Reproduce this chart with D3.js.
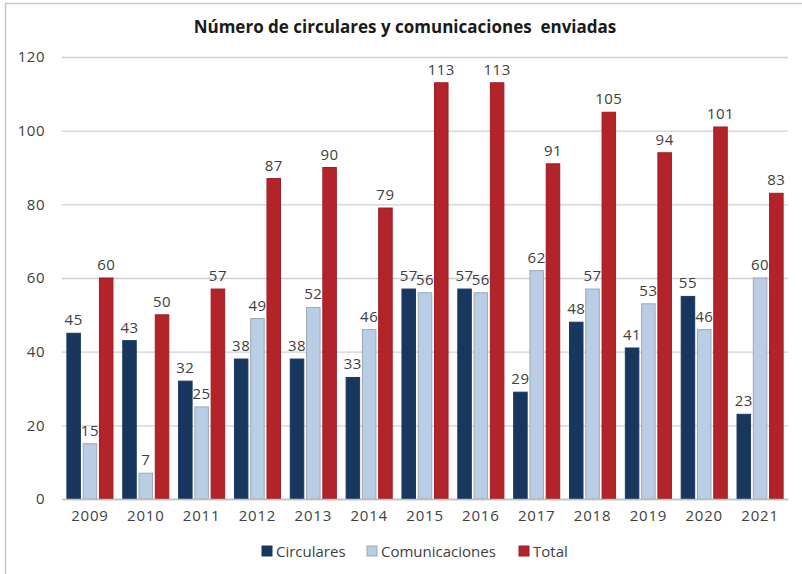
<!DOCTYPE html>
<html>
<head>
<meta charset="utf-8">
<script src="https://cdn.jsdelivr.net/npm/d3@7"></script>
<style>
  body { margin: 0; background: #fff; }
  text { font-family: "Open Sans", "DejaVu Sans", sans-serif; fill: #404040; }
</style>
</head>
<body>
<script>
// chart data
const years = ["2009", "2010", "2011", "2012", "2013", "2014", "2015", "2016", "2017", "2018", "2019", "2020", "2021"];
const circulares = [45, 43, 32, 38, 38, 33, 57, 57, 29, 48, 41, 55, 23];
const comunicaciones = [15, 7, 25, 49, 52, 46, 56, 56, 62, 57, 53, 46, 60];
const total = [60, 50, 57, 87, 90, 79, 113, 113, 91, 105, 94, 101, 83];
const yTicks = [0, 20, 40, 60, 80, 100, 120];
const seriesNames = ["Circulares", "Comunicaciones", "Total"];

const width = 802, height = 574;
const margin = { top: 57, right: 14, bottom: 75, left: 62 };
const colors = { fill: ["#17375e", "#b9cde5", "#b3232a"], stroke: ["#1b3a63", "#9fa8b4", "#9e1d24"] };

const svg = d3.select("body").append("svg")
    .attr("width", width)
    .attr("height", height);

// outer frame
svg.append("rect")
    .attr("x", 5.5).attr("y", 3.5)
    .attr("width", 810).attr("height", 600)
    .attr("fill", "none")
    .attr("stroke", "#c8c8c8")
    .attr("stroke-width", 1.5);

svg.append("text")
    .attr("x", 405)
    .attr("y", 33)
    .attr("text-anchor", "middle")
    .style("font-size", "17px")
    .style("font-weight", "bold")
    .style("white-space", "pre")
    .style("fill", "#1a1a1a")
    .text("Número de circulares y comunicaciones  enviadas");

const plotW = width - margin.left - margin.right;
const plotH = height - margin.top - margin.bottom;

const g = svg.append("g")
    .attr("transform", `translate(${margin.left},${margin.top})`);

const x = d3.scaleBand().domain(years).range([0, plotW]);
const x1 = d3.scaleBand().domain(seriesNames).range([0, x.bandwidth()])
    .paddingInner(0.17).paddingOuter(0.3);
const y = d3.scaleLinear().domain([0, 120]).range([plotH, 0]);

// gridlines + y labels
g.append("g")
    .call(d3.axisLeft(y).tickValues(yTicks).tickSize(-plotW).tickPadding(17))
    .call(a => a.select(".domain").remove())
    .call(a => a.selectAll(".tick line").attr("stroke", "#d0d0d0").attr("stroke-width", 1.3))
    .call(a => a.selectAll(".tick text").style("font-size", "15px").style("letter-spacing", "0.5px").attr("font-family", null));

const rows = years.map((yr, i) => ({ year: yr, values: [circulares[i], comunicaciones[i], total[i]] }));

const groups = g.selectAll(".grp")
    .data(rows)
    .enter().append("g")
    .attr("class", "grp")
    .attr("transform", d => `translate(${x(d.year)},0)`);

groups.selectAll("rect")
    .data(d => d.values.map((v, k) => ({ k, v })))
    .enter().append("rect")
    .attr("x", d => x1(seriesNames[d.k]))
    .attr("width", x1.bandwidth())
    .attr("y", d => y(d.v))
    .attr("height", d => plotH - y(d.v))
    .attr("fill", d => colors.fill[d.k])
    .attr("stroke", d => colors.stroke[d.k])
    .attr("stroke-width", 1);

groups.selectAll(".lbl")
    .data(d => d.values.map((v, k) => ({ k, v })))
    .enter().append("text")
    .attr("class", "lbl")
    .attr("x", d => x1(seriesNames[d.k]) + x1.bandwidth() / 2)
    .attr("y", d => y(d.v) - 8)
    .attr("text-anchor", "middle")
    .style("font-size", "15px")
    .style("letter-spacing", "0.5px")
    .text(d => d.v);

// x axis
g.append("g")
    .attr("transform", `translate(0,${plotH})`)
    .call(d3.axisBottom(x).tickSize(0).tickPadding(11))
    .call(a => a.select(".domain").attr("stroke", "#bfbfbf").attr("stroke-width", 1.3))
    .call(a => a.selectAll(".tick text").style("font-size", "15px").style("letter-spacing", "0.8px").attr("font-family", null));

// legend
const legendItems = [
    { name: seriesNames[0], x: 262 },
    { name: seriesNames[1], x: 367 },
    { name: seriesNames[2], x: 519 }
];
const legend = svg.append("g").attr("transform", "translate(0,551)");
legendItems.forEach((it, k) => {
    legend.append("rect")
        .attr("x", it.x).attr("y", -5)
        .attr("width", 10).attr("height", 10)
        .attr("fill", colors.fill[k])
        .attr("stroke", colors.stroke[k]);
    legend.append("text")
        .attr("x", it.x + 14).attr("y", 5.5)
        .style("font-size", "15px")
        .text(it.name);
});
</script>
</body>
</html>
